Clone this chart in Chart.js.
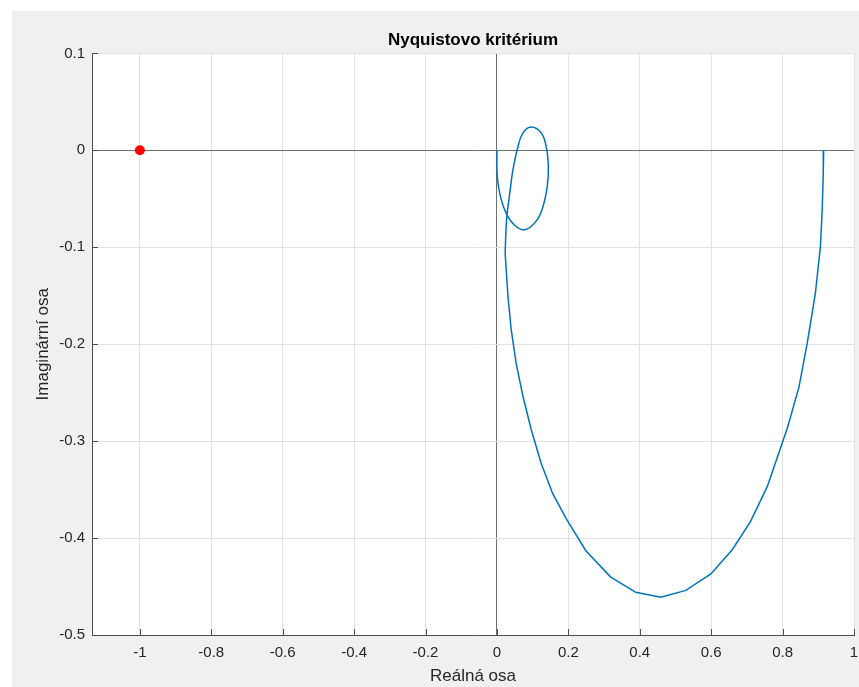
<!DOCTYPE html>
<html>
<head>
<meta charset="utf-8">
<script src="https://cdn.jsdelivr.net/npm/chart.js@4/dist/chart.umd.min.js"></script>
<style>
    html, body { margin: 0; padding: 0; background: #fff; }
    canvas { display: block; }
</style>
</head>
<body>
<canvas id="nyquist" width="859" height="687"></canvas>
<script>
// Nyquist curve, read off the picture (real part / imaginary part)
// big arc: from w = 0 at (0.915, 0) round the bottom and up the left side
const arcRe = [
    0.915, 0.914, 0.911, 0.906, 0.892, 0.869, 0.846, 0.813, 0.799, 0.757,
    0.710, 0.659, 0.599, 0.529, 0.459, 0.389, 0.318, 0.249, 0.194, 0.156,
    0.124, 0.096, 0.073, 0.054, 0.040, 0.031, 0.023,
];
const arcIm = [
    0.000, -0.023, -0.061, -0.099, -0.147, -0.199, -0.244, -0.287, -0.302, -0.347,
    -0.383, -0.412, -0.437, -0.454, -0.461, -0.456, -0.440, -0.413, -0.380, -0.354,
    -0.323, -0.288, -0.254, -0.220, -0.185, -0.151, -0.106,
];
// small loop near the origin, ending at 0 + 0j
const loopRe = [
    0.023, 0.027, 0.036, 0.045, 0.059, 0.073, 0.096, 0.124, 0.138, 0.144,
    0.141, 0.129, 0.110, 0.077, 0.049, 0.026, 0.010, 0.001, 0.000,
];
const loopIm = [
    -0.106, -0.072, -0.044, -0.020, 0.004, 0.018, 0.024, 0.018, 0.004, -0.017,
    -0.037, -0.058, -0.073, -0.082, -0.077, -0.065, -0.048, -0.027, 0.000,
];

// critical point -1 + 0j
const criticalRe = [-1];
const criticalIm = [0];

const xTicks = [-1, -0.8, -0.6, -0.4, -0.2, 0, 0.2, 0.4, 0.6, 0.8, 1];
const yTicks = [0.1, 0, -0.1, -0.2, -0.3, -0.4, -0.5];
const xRange = [-1.134, 1];
const yRange = [-0.5, 0.1];

const toPoints = (re, im) => re.map((x, i) => ({ x, y: im[i] }));

Chart.defaults.font.family = '"Liberation Sans", Arial, Helvetica, sans-serif';
Chart.defaults.color = '#262626';

const lineBlue = '#0072bd';
const gridColor = (ctx) => (ctx.tick && ctx.tick.value === 0 ? '#6f6f6f' : '#e2e2e2');

// gray figure background, white axes box, inward tick marks
const matlabFrame = {
    id: 'matlabFrame',
    beforeDraw(chart) {
        const { ctx, chartArea: a, width, height } = chart;
        ctx.save();
        ctx.fillStyle = '#f0f0f0';
        ctx.fillRect(12, 11, width - 12, height - 11);
        ctx.fillStyle = '#ffffff';
        ctx.fillRect(a.left, a.top, a.right - a.left, a.bottom - a.top);
        ctx.restore();
    },
    afterDraw(chart) {
        const { ctx, chartArea: a, scales } = chart;
        const len = 6;
        ctx.save();
        ctx.strokeStyle = '#4d4d4d';
        ctx.lineWidth = 1;
        ctx.beginPath();
        xTicks.forEach((v) => {
            const px = Math.round(scales.x.getPixelForValue(v)) + 0.5;
            ctx.moveTo(px, a.bottom);
            ctx.lineTo(px, a.bottom - len);
        });
        yTicks.forEach((v) => {
            const py = Math.round(scales.y.getPixelForValue(v)) + 0.5;
            ctx.moveTo(a.left, py);
            ctx.lineTo(a.left + len, py);
        });
        ctx.stroke();
        ctx.restore();
    },
};

const fmt = (v) => String(Number(v.toFixed(1)));

new Chart(document.getElementById('nyquist'), {
    type: 'scatter',
    data: {
        datasets: [
            {
                label: 'G(jw) arc',
                data: toPoints(arcRe, arcIm),
                showLine: true,
                borderColor: lineBlue,
                borderWidth: 1.5,
                pointRadius: 0,
                tension: 0,
            },
            {
                label: 'G(jw) loop',
                data: toPoints(loopRe, loopIm),
                showLine: true,
                borderColor: lineBlue,
                borderWidth: 1.5,
                pointRadius: 0,
                tension: 0.4,
            },
            {
                label: '-1',
                data: toPoints(criticalRe, criticalIm),
                showLine: false,
                pointRadius: 5,
                pointBackgroundColor: '#ff0000',
                pointBorderColor: '#ff0000',
                pointBorderWidth: 0,
            },
        ],
    },
    options: {
        responsive: false,
        animation: false,
        devicePixelRatio: 1,
        layout: { padding: { top: 0, right: 2, bottom: 0, left: 0 } },
        plugins: {
            legend: { display: false },
            tooltip: { enabled: false },
            title: {
                display: true,
                text: 'Nyquistovo kritérium',
                color: '#000',
                fullSize: false,
                font: { size: 17, weight: 'bold' },
                padding: { top: 30, bottom: 3 },
            },
        },
        scales: {
            x: {
                type: 'linear',
                min: xRange[0],
                max: xRange[1],
                afterBuildTicks: (scale) => {
                    scale.ticks = xTicks.map((value) => ({ value }));
                },
                afterFit: (scale) => {
                    scale.height = 52;
                    scale.paddingLeft = 0;
                    scale.paddingRight = 0;
                },
                ticks: {
                    font: { size: 15 },
                    padding: 9,
                    maxRotation: 0,
                    autoSkip: false,
                    callback: fmt,
                },
                grid: { color: gridColor, drawTicks: false },
                border: { color: '#4d4d4d', width: 1 },
                title: {
                    display: true,
                    text: 'Reálná osa',
                    font: { size: 17 },
                    padding: { top: 0, bottom: 0 },
                },
            },
            y: {
                type: 'linear',
                min: yRange[0],
                max: yRange[1],
                afterBuildTicks: (scale) => {
                    scale.ticks = yTicks.map((value) => ({ value }));
                },
                afterFit: (scale) => {
                    scale.width = 92;
                },
                ticks: {
                    font: { size: 15 },
                    padding: 7,
                    autoSkip: false,
                    callback: fmt,
                },
                grid: { color: gridColor, drawTicks: false },
                border: { color: '#4d4d4d', width: 1 },
                title: {
                    display: true,
                    text: 'Imaginární osa',
                    font: { size: 17 },
                    padding: { top: 33, bottom: 0 },
                },
            },
        },
    },
    plugins: [matlabFrame],
});
</script>
</body>
</html>
